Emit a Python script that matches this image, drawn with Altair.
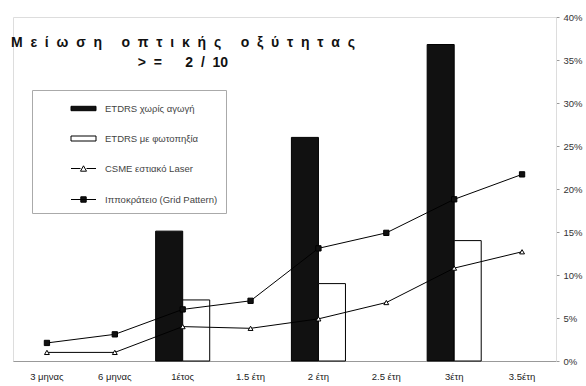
import altair as alt
import pandas as pd

# ---- data (percent values) ----
categories = ["3 μηνας", "6 μηνας", "1έτος", "1.5 έτη", "2 έτη", "2.5 έτη", "3έτη", "3.5έτη"]
bar_categories = ["1έτος", "2 έτη", "3έτη"]
etdrs_untreated = [15.1, 26.0, 36.8]
etdrs_photo = [7.1, 9.0, 14.0]
csme_laser = [1.0, 1.0, 4.0, 3.8, 4.9, 6.8, 10.8, 12.7]
grid_pattern = [2.1, 3.1, 6.0, 7.0, 13.1, 14.9, 18.8, 21.7]
series_names = ["ETDRS χωρίς αγωγή", "ETDRS με φωτοπηξία",
                "CSME εστιακό Laser", "Ιπποκράτειο (Grid Pattern)"]
y_ticks = [0, 5, 10, 15, 20, 25, 30, 35, 40]

NB = "\u00a0"
title_line1 = (NB * 2).join("Μείωση") + NB * 5 + (NB * 2).join("οπτικής") + NB * 5 + (NB * 2).join("οξύτητας")
title_line2 = ">" + NB * 2 + "=" + NB * 6 + "2" + NB * 2 + "/" + NB * 2 + "10"
title_lines = [title_line1, title_line2]

rows = []
for c, v in zip(bar_categories, etdrs_untreated):
    rows.append({"category": c, "series": series_names[0], "value": v, "kind": "bar"})
for c, v in zip(bar_categories, etdrs_photo):
    rows.append({"category": c, "series": series_names[1], "value": v, "kind": "bar"})
for c, v in zip(categories, csme_laser):
    rows.append({"category": c, "series": series_names[2], "value": v, "kind": "line"})
for c, v in zip(categories, grid_pattern):
    rows.append({"category": c, "series": series_names[3], "value": v, "kind": "line"})
df = pd.DataFrame(rows)

# ---- scales / axes ----
x_scale = alt.Scale(domain=categories, paddingInner=0, paddingOuter=0)
y_scale = alt.Scale(domain=[0, 40], nice=False)
x_axis = alt.Axis(title=None, labelAngle=0, ticks=False, domainColor="#999999",
                  labelPadding=10, labelFontSize=9.5, labelColor="#222222",
                  labelFont="Liberation Sans")
y_axis = alt.Axis(orient="right", values=y_ticks, labelExpr="datum.value + '%'",
                  title=None, grid=False, domain=True, domainColor="#dddddd",
                  tickSize=3, tickColor="#999999", labelPadding=4,
                  labelFontSize=9.5, labelColor="#333333", labelFont="Liberation Sans")

fill_scale = alt.Scale(domain=series_names,
                       range=["#111111", "#ffffff", "#ffffff", "#111111"])
stroke_scale = alt.Scale(domain=series_names,
                         range=["#000000", "#000000", "#000000", "#000000"])
shape_scale = alt.Scale(domain=series_names, range=[
    "M-1.25,-0.22H1.25V0.22H-1.25Z",
    "M-1.25,-0.25H1.25V0.25H-1.25Z",
    "M-1.25,0H-0.3M0.3,0H1.25M-0.3,0.27L0,-0.27L0.3,0.27Z",
    "M-1.25,0H1.25M-0.27,-0.27H0.27V0.27H-0.27Z",
])
legend = alt.Legend(title=None, orient="none", legendX=19, legendY=73,
                    symbolSize=400, symbolStrokeWidth=1,
                    symbolOpacity=1, labelFontSize=9.5, labelColor="#444444",
                    labelFont="Liberation Sans", rowPadding=15, padding=8,
                    strokeColor="#aaaaaa", fillColor="white", symbolOffset=33,
                    labelOffset=11)

base = alt.Chart(df)
X = alt.X("category:N", scale=x_scale, axis=x_axis, sort=categories)
Y = alt.Y("value:Q", scale=y_scale, axis=y_axis)

bars = base.transform_filter(alt.datum.kind == "bar").mark_bar(
    stroke="black", strokeWidth=1
).encode(
    x=X, y=Y,
    xOffset=alt.XOffset("series:N", sort=series_names[:2],
                        scale=alt.Scale(domain=series_names[:2], paddingInner=0, paddingOuter=0.2556)),
    fill=alt.condition(alt.datum.series == series_names[0],
                       alt.value("#111111"), alt.value("#ffffff")),
)

csme = base.transform_filter(alt.datum.series == series_names[2])
grid = base.transform_filter(alt.datum.series == series_names[3])

csme_line = csme.mark_line(color="black", strokeWidth=1).encode(x=X, y=Y)
csme_pts = csme.mark_point(shape="triangle-up", filled=True, fill="white",
                           stroke="black", strokeWidth=1, size=24, opacity=1).encode(x=X, y=Y)
grid_line = grid.mark_line(color="black", strokeWidth=1).encode(x=X, y=Y)
grid_pts = grid.mark_point(shape="square", filled=True, fill="#111111",
                           stroke="black", strokeWidth=1, size=28, opacity=1).encode(x=X, y=Y)

legend_layer = base.transform_filter(alt.datum.value < -1).mark_point(
    filled=True, strokeWidth=1, opacity=1
).encode(
    x=X, y=Y,
    shape=alt.Shape("series:N", scale=shape_scale, legend=legend),
    fill=alt.Fill("series:N", scale=fill_scale, legend=legend),
    stroke=alt.Stroke("series:N", scale=stroke_scale, legend=legend),
)

chart = alt.layer(bars, grid_line, csme_line, grid_pts, csme_pts, legend_layer).properties(
    width=543, height=344,
    padding={"left": 13, "top": 17, "right": 30, "bottom": 25},
    autosize="none",
    title=alt.TitleParams(text=title_lines, anchor="start", frame="group", orient="top",
                          align="center", baseline="top", dx=170, dy=58, offset=0,
                          font="Liberation Sans", fontSize=14, fontWeight="bold",
                          color="#111111", lineHeight=20),
).configure_view(stroke=None).configure(background="white")

chart.save("out.html", embed_options={"renderer": "svg", "actions": False})
